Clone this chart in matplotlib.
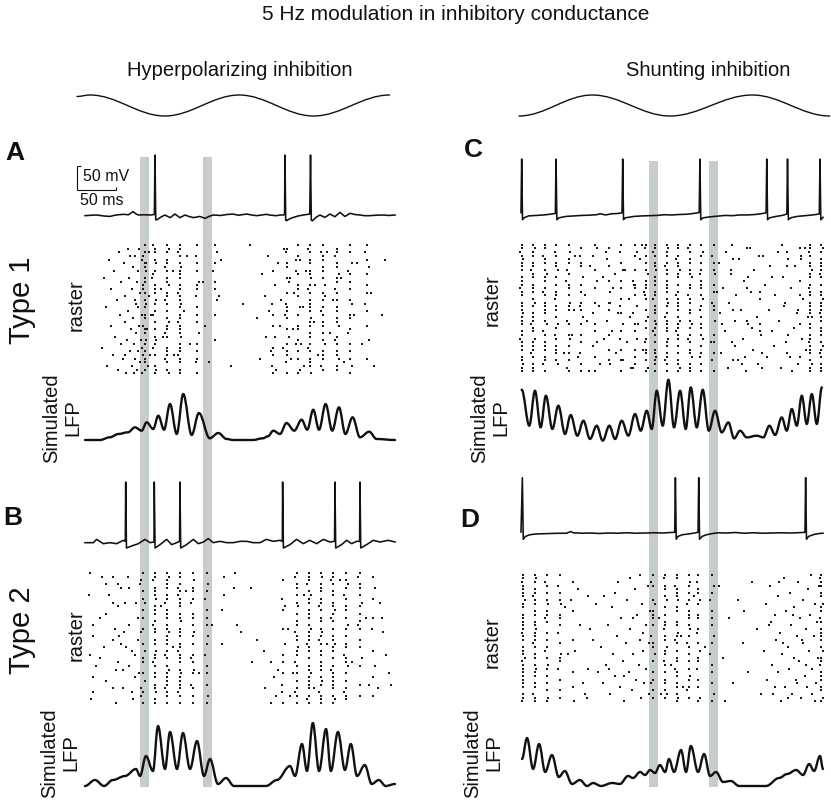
import matplotlib
matplotlib.use("Agg")
import matplotlib.pyplot as plt
from matplotlib.path import Path
from matplotlib.patches import PathPatch

plt.rcParams['font.family'] = ['Liberation Sans', 'DejaVu Sans']

# ======================= DATA =======================
title = "5 Hz modulation in inhibitory conductance"
col_titles = ["Hyperpolarizing inhibition", "Shunting inhibition"]
row_labels = ["Type 1", "Type 2"]
raster_label = "raster"
lfp_label = "Simulated\nLFP"
scale_ms = 50
scale_mv = 50

# 5 Hz inhibitory conductance (normalised, extrema), time in ms
sine_left_t = [-10.3, 6.5, 103, 199, 295, 393]
sine_left_v = [0.93, 1, 0, 1, 0, 1]
sine_right_t = [-2.7, 94.4, 197.2, 306.4, 408.8]
sine_right_v = [0, 1, 0, 1, 0]

# grey marker bars (ms)
bars_left = [(71, 82.6), (152.2, 163.8)]
bars_right = [(169.6, 181.5), (249, 261)]

# ---- membrane potential traces (ms, mV) ----
trace_a_t = [0, 8, 15, 24, 32, 40, 49.5, 56, 62, 66, 69, 76, 84, 89.5, 90.3, 91.3, 93, 96.8, 103, 110,
             116, 122.5, 129, 134, 140, 148, 155, 160, 165.5, 175, 183, 191, 198, 208.5, 215, 221.5,
             228, 234, 240, 247, 252, 256, 257.5, 258, 259, 260, 264, 269, 275, 281.6, 286, 290, 291,
             292, 293.7, 298, 303, 309.6, 316, 322.5, 329, 335.4, 342, 348, 355, 361, 367.6, 375, 385,
             392, 400]
trace_a_v = [-66.4, -65.5, -65, -67, -68, -65, -63.6, -64.5, -58, -63, -65, -64.5, -65, -64, 60, -75,
             -74.7, -70.5, -65, -70.5, -63, -70.5, -65, -68, -70.5, -68, -72, -68, -65, -66, -64, -63,
             -65.5, -63, -65, -66.4, -65, -63.6, -65.5, -66.4, -65, -65, -64, 60, -76, -76.8, -73, -70,
             -67, -65, -64, -63, 60, -76, -76.8, -70, -65, -70, -63, -68.5, -59.5, -68, -61.5, -64,
             -65, -66.5, -66.4, -65.5, -65, -66, -65]

trace_b_t = [0, 10.8, 15, 23.7, 32.3, 40.9, 49.5, 52, 52.5, 53.5, 62.4, 68.8, 77.4, 83.9, 89, 89.4,
             90.4, 96.8, 105.4, 111.8, 118.3, 122, 122.5, 123.5, 131, 139.8, 146.2, 152.7, 159, 165.6,
             174, 182.8, 191.4, 200, 208.6, 217, 225.8, 234, 243, 251.6, 254.6, 255, 256, 264.5, 273,
             281.7, 290, 298.9, 307.5, 316, 322, 322.5, 323.5, 331, 337.6, 344, 350.5, 354.3, 354.8,
             355.8, 363.4, 372, 380.6, 391.3, 400]
trace_b_v = [-66.4, -66.4, -59.5, -68.5, -66.4, -68.5, -61.5, -63.6, 60, -77.5, -72, -68.5, -59.5,
             -66.4, -65, 60, -77.5, -70.5, -59.5, -70.5, -66.4, -63.6, 60, -77.5, -70.5, -59.5, -68.5,
             -65, -58, -66.4, -63.6, -66.4, -66.4, -63.6, -63.6, -66.4, -66.4, -59.5, -63.6, -61.5,
             -63.6, 60, -77.5, -70.5, -59.5, -68.5, -61.5, -68.5, -59.5, -65, -63.6, 60, -77.5, -70.5,
             -61.5, -68.5, -63.6, -63.6, 60, -77.5, -70.5, -61.5, -65, -61.5, -65]

trace_c_t = [0, 0.9, 2, 4, 10, 20, 30, 38, 45.5, 46.4, 47.5, 50, 60, 70, 80, 90, 100, 105, 112, 120,
             128, 133.8, 134.7, 135.8, 138, 150, 160, 170, 180, 190, 200, 210, 220, 228, 236, 237,
             238.1, 241, 250, 260, 270, 280, 290, 300, 310, 318, 324.6, 325.5, 326.6, 329, 338, 346,
             352.1, 353, 354.1, 357, 366, 376, 386, 395.1, 396, 397.1, 400]
trace_c_v = [-62, 49.5, -77, -73, -69, -68, -67, -65.5, -64, 49.5, -77, -73, -70, -69, -68, -67.5,
             -66.5, -64.5, -67, -64.5, -64, -62.5, 49.5, -77, -73, -70, -69, -68.5, -68, -66.5, -67,
             -66, -65.5, -64, -62, 49.5, -77, -73, -71, -69.5, -68, -68.5, -67, -67, -66, -64.5,
             -62.5, 49.5, -77, -73, -70, -68, -65, 49.5, -77, -73, -70, -68.5, -67, -65, 49.5, -77, -72]

trace_d_t = [0, 1.8, 3, 6, 12, 20, 30, 40, 50, 60, 66, 69, 80, 92, 104, 116, 128, 140, 152, 164, 176,
             188, 198, 203.6, 204.5, 205.6, 208, 214, 222, 230, 234.5, 235.4, 236.5, 240, 246, 254,
             262, 272, 284, 296, 308, 320, 332, 344, 356, 366, 376.1, 377, 378.1, 381, 388, 395, 400]
trace_d_v = [-63, 50.2, -78, -72, -68.5, -67, -66.5, -66, -65.5, -65.5, -62, -64.5, -65.5, -65, -66,
             -65, -65.5, -64.5, -65.5, -65, -64.5, -65, -64, -63.5, 50.2, -78, -72, -68.5, -67, -65,
             -63.5, 50.2, -78, -72, -68.5, -66, -64.5, -65, -64, -65.5, -64.5, -65.5, -65, -64.5,
             -65, -64.5, -63.5, 50.2, -78, -72, -68, -66, -65.5]

# ---- simulated LFP (ms, a.u.; peaks and troughs) ----
lfp_a_t = [0, 19.4, 32, 43, 55.5, 64.5, 73, 79.6, 88, 94.6, 102, 109.7, 118.3, 126.8, 137.6, 147,
           161, 172, 182.8, 191, 216.7, 229.6, 236, 243, 251.6, 260, 270, 279.5, 286.8, 294.5, 302,
           310.5, 319, 327.7, 336, 345.3, 354.8, 366.7, 376.3, 400]
lfp_a_v = [0, 0, 2.7, 6, 7.7, 12.7, 9.3, 17.7, 11, 24.3, 10.3, 36, 6, 46, 5, 27, 1.7, 7, 1, 0, 0, 1.7,
           3.7, 9.3, 6, 17, 9.3, 20.3, 10.3, 30.3, 10.3, 36, 9.3, 32.7, 6, 22.7, 2.7, 8.3, 1, 0]

lfp_b_t = [0, 12.9, 24.5, 36, 51.6, 65.8, 71, 78.7, 87.7, 94.2, 103.2, 109.7, 118.7, 126.4, 135.5,
           144.5, 153.5, 161.3, 171.6, 181.9, 192.2, 233.5, 247.7, 264.5, 271, 280, 286.4, 294, 302,
           311, 317.3, 326.4, 335.4, 343, 351, 361, 370, 379, 388, 400]
lfp_b_v = [0, 6, 0, 6, 10, 17, 10, 30, 15, 60, 17, 54, 17, 53, 17, 45, 10, 27, 2, 8, 0, 0, 6, 20, 10,
           42, 15, 63, 15, 57, 15, 54, 16, 42, 10, 21, 2, 6, 0, 2]

lfp_c_t = [0.9, 11, 18.5, 26, 33, 41.5, 49.5, 58.3, 65.8, 74.6, 82.6, 91.4, 100.3, 108.2, 117, 124.6,
           133.4, 142.2, 151, 158.6, 166.5, 173.2, 179.8, 187.7, 195.2, 202.7, 210.7, 218.2, 224.8,
           232.8, 240.7, 248.7, 257, 265.9, 274.7, 282.2, 290.2, 299, 312.3, 321, 329, 336.6, 345.4,
           352, 358.7, 365.3, 371.9, 378.5, 385.2, 391.8, 398.5]
lfp_c_v = [51, 15, 50, 13.3, 45, 11.7, 35, 6.7, 25.7, 5, 20, 1.7, 15, 0, 15, 1.7, 20, 5, 26.7, 10, 30,
           11.7, 50, 15, 61, 13.3, 50, 11.7, 53.3, 13.3, 51, 10, 30, 8.3, 18.3, 2.3, 10, 3.3, 5, 3.3,
           15, 5.7, 23.3, 10, 31.7, 15, 45, 16.7, 46.7, 16.7, 53.3]

lfp_d_t = [1.3, 8, 16, 24, 32, 41, 50, 58, 67.6, 78, 87.5, 95.4, 106, 120.6, 131, 141.8, 148.4, 157.7,
           164.3, 171, 177.6, 184, 190.8, 196, 202.7, 212, 218.6, 225, 234.5, 242.5, 250.4, 258.4,
           267.6, 278, 288.9, 324.6, 341.9, 352.5, 364.4, 373.6, 381.6, 388.2, 396, 400]
lfp_d_v = [27, 48, 17, 42, 14, 31, 9, 15, 2, 6, 0, 3, 0, 3, 2, 10, 8, 14, 11, 16, 13, 21, 14, 27, 14,
           36, 14, 40, 14, 32, 10, 14, 4, 5, 0, 0, 8, 12, 16, 11, 22, 15, 30, 17]

# ---- rasters: synchronous stripes (ms) + per-neuron masks (36 neurons) ----
# '|' spike on time, '<' early, '>' late, '.' no spike
raster_a_stripes = [77, 90, 106, 122, 145, 168, 243, 261, 275, 290, 307, 325, 342, 364]
raster_a_masks = [
    "|.|<.| |>.||. <|.|>| .||.<| |.>|.| <||.|.",
    "<||.|> .|<..| ||.>|. |<.|.| .|>|<. |..|>|",
    "|>|.|| <|.||> .||<|. |.|>|| <|..|| |<|.|>",
    "||<|.| >|||.| |<||>| .||<|| |>.||| <||.||",
    "|..<.| .|..>| |.<..| .|.|.. >..|.| .|<..|",
    "|.>..| .<..|. |..>.. .|.... ..|... ......",
    "...... .|.... ....<. .|..|. .>..|. |..<.|",
    ".|<..| |..|>. .|..<| |.|..| .>.|.| |.<..|",
    "|..|>. .<|..| |.|..> .|..|| ..|<.| .|..>|",
    "|<|.|| .||>.| <|.||| |.>||. ||.|<| .|||.>",
    "|.<||. ||.|.> .|>|.| <|.||. |.|>.| ||.<|.",
    ".||<.| |.>||. <|.|.| |.||>. .|<|.| |>.||.",
    "|.|..> .<|.|. |..|>. .||..| <..|.| .|.>.|",
    "|.<.|. >.|..| .|..<. |...|. ..>... .|....",
]
raster_a_scatter = [
    (22, 28), (25, 9), (27, 17), (29, 33), (31, 4), (33, 22), (34, 12), (36, 30), (38, 7), (39, 25),
    (41, 15), (42, 34), (44, 2), (45, 19), (46, 27), (47, 10), (49, 31), (50, 5), (51, 21), (52, 14),
    (53, 35), (54, 26), (55, 1), (56, 18), (57, 9), (58, 29), (59, 23), (60, 12), (61, 33), (62, 6),
    (62, 20), (63, 27), (64, 15), (65, 3), (65, 31), (66, 24), (67, 10), (67, 34), (68, 17), (69, 29),
    (69, 7), (70, 22), (71, 13), (71, 32), (72, 26), (73, 4), (73, 19), (74, 35), (75, 11), (74, 28),
    (70, 1), (66, 16), (63, 35), (58, 3), (52, 30), (79, 5), (82, 14), (80, 23), (84, 30), (86, 9),
    (81, 33), (83, 2), (85, 19), (98, 12), (100, 25), (113, 7), (115, 30), (128, 18), (131, 3),
    (136, 27), (152, 10), (155, 22), (160, 32), (173, 14), (176, 4), (204, 16), (213, 0), (188, 33),
    (222, 20), (226, 31), (229, 8), (232, 14), (234, 25), (236, 3), (238, 18), (240, 29), (245, 11),
    (247, 34), (249, 5), (251, 22), (253, 15), (255, 28), (257, 1), (258, 19), (264, 9), (266, 31),
    (268, 23), (270, 13), (272, 4), (279, 27), (281, 17), (283, 33), (285, 7), (295, 21), (297, 11),
    (300, 30), (312, 2), (316, 24), (320, 15), (330, 9), (334, 32), (347, 19), (351, 5), (357, 27),
    (369, 13), (373, 33), (383, 19), (387, 4),
]

raster_b_stripes = [75, 90, 106, 122, 139, 157, 256, 273, 289, 304, 320, 337, 355, 372]
raster_b_masks = [
    "|.<..| .|>.|. |..|<. .|.>.| |..|.> .<|..|",
    "||<.|| |>.||| .|<||. ||.>|| <|.||. ||>.||",
    "|>|||. ||<.|| |.||>| ||.|<| .|>||| |<||.|",
    "||.|<| <|||.| |>.||| .||<|| |.|>|| ||<|.|",
    "|.>.|| .|<..| |.|.>| .|..|< |.>|.. <|.|.|",
    "|..>.| .<..|. |.|..> .|..<. .|.|.. |..>.|",
    "..|... .<..|. ...|.. .>.... |..|.. ..<..|",
    "|<.||. |.|>.| .||.<| |.>||. <|.|.| .|<|.|",
    "|||<.| >||.|| |.|>|| |<||.| .||>|| ||.|<|",
    "|>.||| .||<|. ||.|>| <|.||. |||.|> |.<|||",
    "||<|.| |.||>| <|.|.| |>||.| .|<||| ||.|>|",
    "|.|>|. <|.||. |.>|.| .||.<| |>.|.| .|<||.",
    "|<.||. |.>|.| .|<|.. |.|..> .|.... |..|..",
    ".|..>. .|.... |..<.. ...|.. .>..|. ...|..",
]
raster_b_scatter = [
    (6, 0), (22, 1), (27, 3), (36, 1), (42, 3), (47, 4), (55, 1), (57, 4), (5, 6), (36, 8), (42, 9),
    (51, 8), (27, 11), (19, 12), (10, 14), (39, 15), (50, 16), (44, 17), (57, 14), (10, 17), (36, 18),
    (47, 19), (53, 20), (60, 21), (6, 22), (19, 23), (42, 24), (57, 25), (49, 26), (40, 26), (64, 28),
    (10, 28), (27, 29), (36, 31), (49, 31), (60, 32), (10, 32), (8, 34), (62, 34), (40, 35), (66, 8),
    (68, 18), (70, 27), (71, 3), (69, 12), (72, 33), (65, 22), (31, 6), (14, 25), (24, 20),
    (98, 9), (113, 20), (130, 5), (147, 27), (164, 14), (282, 6), (296, 31), (312, 19), (329, 2),
    (345, 24), (362, 12), (366, 30), (179, 1), (179, 6), (194, 0), (192, 4), (214, 4), (177, 10),
    (196, 14), (201, 16), (222, 18), (177, 19), (231, 21), (240, 24), (215, 24), (249, 26), (244, 28),
    (254, 30), (232, 31), (247, 33), (240, 35), (258, 9), (262, 15), (256, 22), (265, 33), (268, 27),
    (380, 8), (385, 16), (388, 22), (392, 27), (378, 31), (395, 30), (383, 12),
]

raster_c_stripes = [1, 16, 32, 47, 63, 80, 98, 116, 133, 151, 166, 177, 193, 208, 224, 239, 255,
                    281, 299, 317, 352, 369, 383, 398]
raster_c_masks = [
    "||<|>| ||.||| <||.|| |>|||. ||<||| .||>||",
    "|>||.| |<||.| ||.|>| .|||<| |.>||| <|.|||",
    "||.<|| .|>||. |<|.|| ||.|>. <|.||| .||<.|",
    "|.<|.| |>.|.| .||<.| |.|.>| .<|.|| |.|>..",
    "|.>.|| .<|..| |.|.>| |..<|. .|>.|. |.|.<|",
    ".|.<.| |..>.| .|..|< |.>... .|.|.. <..|.|",
    "|..<.. .|..>. |...|. .<..|. |..>.. .|...|",
    ".|..<. |...|. .>..|. |..<.. .|...| ..|>..",
    "|.<..| .>..|. |..|.< .|..>. |.<..| ..|..|",
    "|.>|.. .|..<| |.|..> .<..|. |.>..| .|.|<.",
    "|<.|.| .|>.|| |.<|.. |.>|.| ..|<.| |.|.>|",
    "||<|.| |>.||| .||<.| ||.|>| <|.|.| |>||.|",
    "|>||.| <||.|| ||.|>| .|<||| |.>||. ||<|.|",
    "||.|<| |>||.| .|<||| |.|>|| <||.|. |.||>|",
    "|<|.|| .||>.| |.<||. ||.|>| .|<|.| |>.|||",
    "|.>|.| .|<.|| |.|>.| <.|.|| .|>.|. |<.|.|",
    "|..<.| .|>..| .|..<| |..>.. .|.|.. |.<..|",
    "....|. .<.... ...... |..... ....>. ..|...",
    ".|.... ...>.. |..... ...|.. ...... .<....",
    "...<.. ...... .|.... ....|. |..... ....>.",
    "..|... |..... ....<. ...... .>.... |.....",
    ".|..>. ...... ..|... <...|. ...... .|.<..",
    "||<|.| |>||.| <||.|| ||>.|| .||<|| |.|>||",
    "|>|.|| ||<|.| .||>|| |<||.| ||.|>| <|.|||",
]
raster_c_scatter = [
    (60, 10), (67, 25), (72, 3), (75, 31), (85, 14), (88, 21), (92, 6), (95, 28), (103, 17),
    (105, 33), (108, 9), (112, 2), (120, 24), (122, 12), (126, 30), (129, 19), (138, 7), (140, 27),
    (143, 15), (146, 34), (155, 22), (158, 4), (161, 29), (163, 13), (70, 18), (90, 35), (110, 26),
    (125, 8), (135, 32), (150, 11), (100, 1), (118, 16), (145, 20), (160, 0), (80, 22), (57, 30),
    (262, 5), (263, 19), (265, 30), (268, 12), (270, 24), (272, 2), (274, 34), (276, 16), (278, 8),
    (280, 27), (283, 21), (285, 14), (287, 32), (289, 4), (292, 18), (294, 26), (296, 10), (298, 35),
    (301, 22), (303, 1), (305, 13), (307, 29), (309, 7), (312, 20), (314, 33), (316, 15), (318, 25),
    (321, 3), (323, 11), (326, 31), (328, 18), (330, 6), (333, 24), (335, 28), (337, 14), (340, 2),
    (342, 21), (344, 34), (347, 9), (349, 17), (351, 27), (354, 4), (356, 31), (358, 12), (361, 23),
    (363, 6), (365, 19), (367, 33), (370, 10), (372, 26), (374, 15), (376, 1), (378, 29), (380, 20),
    (371, 3), (359, 35), (346, 0), (332, 9), (319, 30), (306, 23), (293, 33), (279, 0), (266, 22),
    (260, 13), (252, 27),
]

raster_d_stripes = [3, 18, 34, 51, 69, 89, 175, 191, 206, 222, 235, 253, 398]
raster_d_masks = [
    "||<||| |>||.| ||||<| |.|||> <||||| ||.||<",
    "|>|.|| <||.|| .||>|| |<|.|| .|>||. ||.<||",
    "|.<|.| .|>.|| <|..|. |.|<.| .>|.|. |.|.>|",
    "|..<.| .|>..| |.|.<. .|..>| |.<..| ..|.|.",
    "..|... .<..|. ...... |..>.. ...|.. .|....",
    "...... |..... ...>.. ...... ..|... ....<.",
    "|.<|.. .|>.|| |.|..< .||.>. |..|.| <.|.|.",
    "|<.||. |>.|.| .||<.| |.>||. <|.|.| |.|>|.",
    "||.<|| |>.||. .||.>| <|.|.| |.<||. ||.|>|",
    "|.>|.| .|<.|| |.|>.| .<|.|. |.|.>| .|<.|.",
    "|.<.|| .>|..| |..|<. .|.>.| |.<..| .|..>|",
    "|..>.| .<..|. |.|..> .|..<. .|.|.. |..>.|",
    "|<||.| |.>||. <|.||| |.|>.| |<.||| .||.>|",
]
raster_d_scatter = [
    (58, 9), (62, 22), (75, 4), (78, 14), (82, 30), (95, 18), (99, 8), (102, 27), (85, 33), (70, 35),
    (106, 20), (108, 30), (110, 6), (113, 25), (115, 14), (118, 33), (120, 9), (122, 22), (125, 28),
    (127, 17), (129, 2), (131, 31), (133, 12), (135, 24), (137, 35), (139, 19), (141, 7), (143, 27),
    (145, 15), (147, 32), (149, 22), (151, 4), (152, 29), (154, 11), (156, 25), (157, 18), (159, 34),
    (160, 8), (162, 21), (163, 30), (165, 14), (166, 26), (168, 3), (169, 33), (170, 19), (171, 10),
    (124, 5), (144, 1), (158, 0), (136, 28), (117, 26), (148, 12), (161, 16),
    (183, 12), (199, 25), (215, 31), (229, 6), (244, 20), (186, 33), (212, 17),
    (262, 3), (268, 23), (275, 12), (281, 30), (288, 7), (294, 19), (300, 27), (306, 2), (312, 15),
    (318, 33), (270, 35), (296, 10),
    (322, 21), (324, 8), (326, 29), (328, 14), (330, 3), (332, 25), (334, 33), (336, 11), (338, 18),
    (340, 6), (341, 27), (343, 16), (345, 35), (346, 22), (348, 1), (350, 31), (351, 10), (353, 20),
    (355, 26), (356, 5), (358, 14), (359, 33), (361, 23), (362, 9), (364, 29), (365, 17), (367, 2),
    (368, 24), (370, 12), (371, 34), (373, 19), (374, 7), (376, 28), (377, 15), (379, 31), (380, 4),
    (382, 21), (383, 11), (385, 26), (386, 33), (388, 17), (389, 8), (391, 30), (392, 13), (394, 23),
    (395, 3), (390, 35), (384, 0), (378, 25), (372, 18), (366, 30), (360, 11), (354, 34), (347, 19),
    (342, 2), (337, 31), (331, 13),
]

# ======================= LAYOUT / STYLE =======================
W, H = 831, 804
INK = '#111111'
BAR = '#c6cdca'
JITTER = 2.2   # ms offset drawn for '<' / '>' entries
fig = plt.figure(figsize=(W / 100, H / 100), dpi=100, facecolor='white')


def px_axes(x0, x1, y0, y1, z=2):
    ax = fig.add_axes([x0 / W, 1 - y1 / H, (x1 - x0) / W, (y1 - y0) / H], zorder=z)
    ax.set_axis_off()
    ax.patch.set_alpha(0)
    return ax


def smooth(ax, ts, vs, lw, k=0.36):
    verts = [(ts[0], vs[0])]
    codes = [Path.MOVETO]
    for i in range(1, len(ts)):
        d = ts[i] - ts[i - 1]
        verts += [(ts[i - 1] + k * d, vs[i - 1]), (ts[i] - k * d, vs[i]), (ts[i], vs[i])]
        codes += [Path.CURVE4] * 3
    ax.add_patch(PathPatch(Path(verts, codes), fc='none', ec=INK, lw=lw, clip_on=False,
                           joinstyle='round', capstyle='round'))


def raster_points(stripes, masks, scatter):
    shift = {'|': 0.0, '<': -JITTER, '>': JITTER}
    ts, ns = [], []
    for t0, m in zip(stripes, masks):
        for n, ch in enumerate(m.replace(' ', '')):
            if ch in shift:
                ts.append(t0 + shift[ch])
                ns.append(n)
    for t, n in scatter:
        ts.append(t)
        ns.append(n)
    return ts, ns


cols = {'L': (85, 395), 'R': (521, 823)}

# grey bars
for c, bars, (y0, y1) in [('L', bars_left, (158, 788)), ('R', bars_right, (162, 788))]:
    ax = px_axes(*cols[c], y0, y1, z=0)
    ax.set_xlim(0, 400)
    ax.set_ylim(0, 1)
    for b0, b1 in bars:
        ax.axvspan(b0, b1, color=BAR, lw=0)

# sines
for c, ts, vs in [('L', sine_left_t, sine_left_v), ('R', sine_right_t, sine_right_v)]:
    ax = px_axes(*cols[c], 96, 117)
    ax.set_xlim(0, 400)
    ax.set_ylim(0, 1)
    smooth(ax, ts, vs, lw=1.0)

panels = [
    ('L', trace_a_t, trace_a_v, 148.8, 225.6,
     (raster_a_stripes, raster_a_masks, raster_a_scatter), 244, 376,
     lfp_a_t, lfp_a_v, 385, 445, -4, 56),
    ('L', trace_b_t, trace_b_v, 475.8, 552.6,
     (raster_b_stripes, raster_b_masks, raster_b_scatter), 572, 706,
     lfp_b_t, lfp_b_v, 717, 791, -4, 70),
    ('R', trace_c_t, trace_c_v, 147.8, 224.6,
     (raster_c_stripes, raster_c_masks, raster_c_scatter), 244, 374,
     lfp_c_t, lfp_c_v, 375, 445, -3.3, 66.7),
    ('R', trace_d_t, trace_d_v, 466.8, 543.6,
     (raster_d_stripes, raster_d_masks, raster_d_scatter), 574, 704,
     lfp_d_t, lfp_d_v, 733, 791, -4, 54),
]

trace_axes = []
for (c, tt, tv, ty0, ty1, rdata, ry0, ry1, lt, lv, ly0, ly1, lo, hi) in panels:
    x0, x1 = cols[c]
    ax = px_axes(x0, x1, ty0, ty1)
    ax.set_xlim(0, 400)
    ax.set_ylim(-85, 75)
    ax.plot(tt, tv, color=INK, lw=1.15, clip_on=False)
    trace_axes.append(ax)

    ax = px_axes(x0, x1, ry0, ry1)
    ax.set_xlim(0, 400)
    ax.set_ylim(35.5, -0.5)
    rt, rn = raster_points(*rdata)
    ax.plot(rt, rn, ls='none', marker='s', ms=1.75, mew=0, color='#1a1a1a', clip_on=False)

    ax = px_axes(x0, x1, ly0, ly1)
    ax.set_xlim(0, 400)
    ax.set_ylim(lo, hi)
    smooth(ax, lt, lv, lw=1.7)

# scale bar on panel A trace
ax = trace_axes[0]
t0, v0 = -10.3, -12.9
kw = dict(color=INK, lw=0.8, clip_on=False, solid_capstyle='butt')
ax.plot([t0, t0], [v0, v0 + scale_mv], **kw)
ax.plot([t0, t0 + 5], [v0 + scale_mv, v0 + scale_mv], **kw)
ax.plot([t0, t0 + scale_ms], [v0, v0], **kw)
ax.plot([t0 + scale_ms, t0 + scale_ms], [v0, v0 + 6], **kw)
ax.text(t0 + 7.5, v0 + 31, f"{scale_mv} mV", fontsize=11.5, ha='left', va='center', color=INK)
ax.text(t0 + 3.5, v0 - 19, f"{scale_ms} ms", fontsize=11.5, ha='left', va='center', color=INK)


# ---- texts ----
def ftext(x, y, s, **kw):
    fig.text(x / W, 1 - y / H, s, color=INK, **kw)


ftext(456, 14, title, fontsize=15, ha='center', va='center')
ftext(240, 70, col_titles[0], fontsize=14.5, ha='center', va='center')
ftext(708, 70, col_titles[1], fontsize=14.5, ha='center', va='center')

for (x, y, s) in [(15, 153, 'A'), (13, 518, 'B'), (473, 150, 'C'), (470, 520, 'D')]:
    ftext(x, y, s, fontsize=19, fontweight='bold', ha='center', va='center')

ftext(22, 300, row_labels[0], fontsize=21, rotation=90, ha='center', va='center')
ftext(22, 630, row_labels[1], fontsize=21, rotation=90, ha='center', va='center')

for (x, y) in [(76, 305), (76, 635), (492, 300), (492, 642)]:
    ftext(x, y, raster_label, fontsize=14.5, rotation=90, ha='center', va='center')

for (x, y) in [(62, 418), (60, 753), (490, 418), (483, 753)]:
    ftext(x, y, lfp_label, fontsize=14.5, rotation=90, ha='center', va='center',
          multialignment='center', linespacing=1.15)

fig.savefig('out.png', dpi=100, facecolor='white')
